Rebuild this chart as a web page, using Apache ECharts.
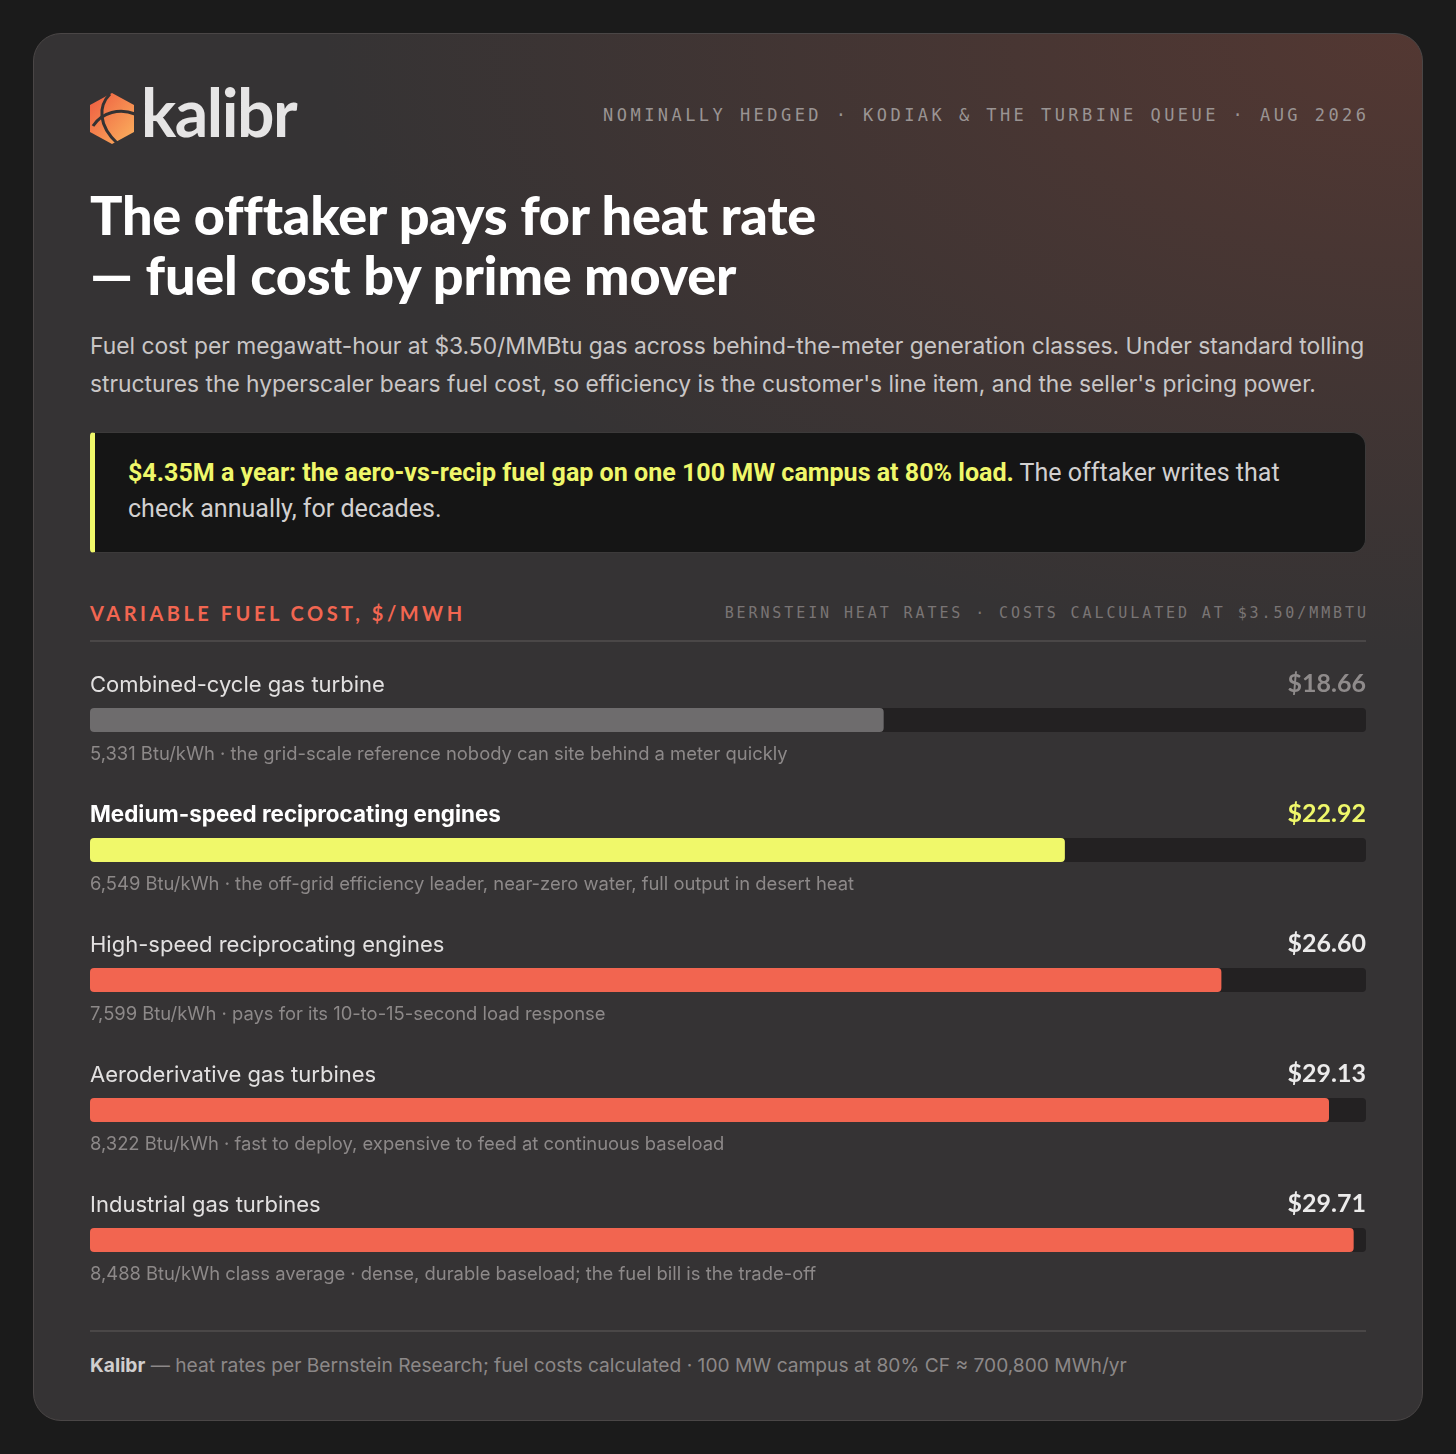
<!DOCTYPE html>
<html>
<head>
<meta charset="utf-8">
<script src="https://cdn.jsdelivr.net/npm/echarts@6/dist/echarts.min.js"></script>
<style>
  html, body { margin: 0; padding: 0; }
  body { width: 1456px; height: 1454px; background: #1b1b1b; position: relative; overflow: hidden; font-family: Inter, "Noto Sans", sans-serif; }
  .card {
    position: absolute; left: 33px; top: 33px; width: 1388px; height: 1386px;
    border-radius: 28px; border: 1px solid #4a4646;
    background:
      radial-gradient(ellipse 1100px 620px at 100% 0%, rgba(125, 62, 48, 0.42), rgba(125, 62, 48, 0) 100%),
      #353334;
  }
  .abs { position: absolute; white-space: nowrap; }
  .logo-text { left: 141px; top: 72px; font-family: Lato, sans-serif; font-weight: 700; font-size: 66px; color: #e6e5e5; letter-spacing: -1.5px; line-height: 80px; }
  .kicker { right: 90px; top: 105px; font-family: "DejaVu Sans Mono", monospace; font-size: 17px; letter-spacing: 3.45px; color: #9a9493; margin-right: -3.45px; }
  .title { left: 90px; top: 185px; font-family: Lato, sans-serif; font-weight: 900; font-size: 54px; line-height: 60px; color: #ffffff; letter-spacing: -0.2px; }
  .desc { left: 90px; top: 327px; font-size: 22.8px; line-height: 38px; color: #c9c6c6; }
  .callout {
    position: absolute; left: 90px; top: 432px; width: 1276px; height: 121px; box-sizing: border-box;
    background: #151515; border: 1px solid #3c3a3a; border-left: 5px solid #f0f86a; border-radius: 4px 14px 14px 4px;
  }
  .callout-text { left: 128px; top: 455px; font-family: Roboto, sans-serif; font-size: 25.05px; line-height: 36px; color: #d2d0d0; }
  .callout-text b { color: #eff76a; font-weight: 700; }
  .sec { left: 90px; top: 601px; font-family: Lato, sans-serif; font-weight: 700; font-size: 20px; letter-spacing: 3.5px; color: #f26651; }
  .src { right: 90px; top: 604px; font-family: "DejaVu Sans Mono", monospace; font-size: 15px; letter-spacing: 2.9px; color: #7a7575; margin-right: -2.9px; }
  .rule { position: absolute; left: 90px; width: 1276px; height: 2px; background: #4a4747; }
  .foot { left: 90px; top: 1353px; font-size: 19.2px; color: #8c8888; }
  .foot b { color: #d0cece; font-weight: 700; }
  #chart { position: absolute; left: 90px; top: 655px; width: 1276px; height: 650px; }
</style>
</head>
<body>
<div class="card"></div>

<svg class="abs" style="left:88px;top:92px" width="50" height="54" viewBox="0 0 50 54">
  <defs>
    <linearGradient id="hg" x1="0" y1="0" x2="1" y2="1">
      <stop offset="0" stop-color="#ee5a40"/>
      <stop offset="1" stop-color="#fbb35e"/>
    </linearGradient>
  </defs>
  <polygon points="24,1 46,13 46,40 24,52 2,40 2,13" fill="url(#hg)"/>
  <path d="M22,2 C10,14 10,34 30,52" stroke="#343233" stroke-width="3" fill="none"/>
  <path d="M5,34 C14,20 32,16 47,22" stroke="#343233" stroke-width="3" fill="none"/>
</svg>
<div class="abs logo-text">kalibr</div>
<div class="abs kicker">NOMINALLY HEDGED · KODIAK &amp; THE TURBINE QUEUE · AUG 2026</div>

<div class="abs title">The offtaker pays for heat rate<br>— fuel cost by prime mover</div>
<div class="abs desc">Fuel cost per megawatt-hour at $3.50/MMBtu gas across behind-the-meter generation classes. Under standard tolling<br>structures the hyperscaler bears fuel cost, so efficiency is the customer's line item, and the seller's pricing power.</div>

<div class="callout"></div>
<div class="abs callout-text"><b>$4.35M a year: the aero-vs-recip fuel gap on one 100 MW campus at 80% load.</b> The offtaker writes that<br>check annually, for decades.</div>

<div class="abs sec">VARIABLE FUEL COST, $/MWH</div>
<div class="abs src">BERNSTEIN HEAT RATES · COSTS CALCULATED AT $3.50/MMBTU</div>
<div class="rule" style="top:640px"></div>

<div id="chart"></div>

<div class="rule" style="top:1330px"></div>
<div class="abs foot"><b>Kalibr</b> — heat rates per Bernstein Research; fuel costs calculated · 100 MW campus at 80% CF ≈ 700,800 MWh/yr</div>

<script>
  // 发电类型
  var moverNames = [
    "Combined-cycle gas turbine",
    "Medium-speed reciprocating engines",
    "High-speed reciprocating engines",
    "Aeroderivative gas turbines",
    "Industrial gas turbines"
  ];
  // 燃料成本 $/MWh
  var fuelCosts = [18.66, 22.92, 26.60, 29.13, 29.71];
  // 说明文字
  var moverNotes = [
    "5,331 Btu/kWh · the grid-scale reference nobody can site behind a meter quickly",
    "6,549 Btu/kWh · the off-grid efficiency leader, near-zero water, full output in desert heat",
    "7,599 Btu/kWh · pays for its 10-to-15-second load response",
    "8,322 Btu/kWh · fast to deploy, expensive to feed at continuous baseload",
    "8,488 Btu/kWh class average · dense, durable baseload; the fuel bill is the trade-off"
  ];
  var axisMax = 30;

  // 颜色：参考值灰色，高亮黄色，其余橙色
  var barColors = ["#6e6c6d", "#f0f86a", "#f26550", "#f26550", "#f26550"];
  var priceColors = ["#8f8b8b", "#eff76a", "#ecebeb", "#ecebeb", "#ecebeb"];

  var chart = echarts.init(document.getElementById("chart"), null, { renderer: "canvas" });

  var trackData = [];
  var valueData = [];
  var noteData = [];
  for (var i = 0; i < moverNames.length; i++) {
    trackData.push({
      value: axisMax,
      label: { color: priceColors[i] }
    });
    valueData.push({
      value: fuelCosts[i],
      itemStyle: { color: barColors[i] },
      label: i === 1 ? { color: "#ffffff", fontWeight: 700, fontSize: 22.4 } : {}
    });
    noteData.push({ value: axisMax });
  }

  var option = {
    animation: false,
    grid: { left: 0, right: 0, top: 0, bottom: 0 },
    xAxis: { type: "value", min: 0, max: axisMax, show: false },
    yAxis: { type: "category", data: moverNames, inverse: true, show: false },
    series: [
      {
        name: "track",
        type: "bar",
        data: trackData,
        barWidth: 24,
        barGap: "-100%",
        silent: true,
        itemStyle: { color: "#232122", borderRadius: 4 },
        label: {
          show: true,
          position: ["100%", -24],
          align: "right",
          verticalAlign: "middle",
          fontFamily: "Lato, sans-serif",
          fontWeight: 700,
          fontSize: 25,
          formatter: function (p) {
            return "$" + fuelCosts[p.dataIndex].toFixed(2);
          }
        }
      },
      {
        name: "cost",
        type: "bar",
        data: valueData,
        barWidth: 24,
        barGap: "-100%",
        itemStyle: { borderRadius: 4 },
        label: {
          show: true,
          position: [0, -23],
          align: "left",
          verticalAlign: "middle",
          fontFamily: "Inter, sans-serif",
          fontSize: 22,
          color: "#e2e0e0",
          formatter: function (p) {
            return moverNames[p.dataIndex];
          }
        }
      },
      {
        name: "note",
        type: "bar",
        data: noteData,
        barWidth: 24,
        barGap: "-100%",
        silent: true,
        itemStyle: { color: "rgba(0,0,0,0)" },
        label: {
          show: true,
          position: [0, 46],
          align: "left",
          verticalAlign: "middle",
          fontFamily: "Inter, sans-serif",
          fontSize: 18.4,
          color: "#8d8989",
          formatter: function (p) {
            return moverNotes[p.dataIndex];
          }
        }
      }
    ]
  };
  chart.setOption(option);
</script>
</body>
</html>
